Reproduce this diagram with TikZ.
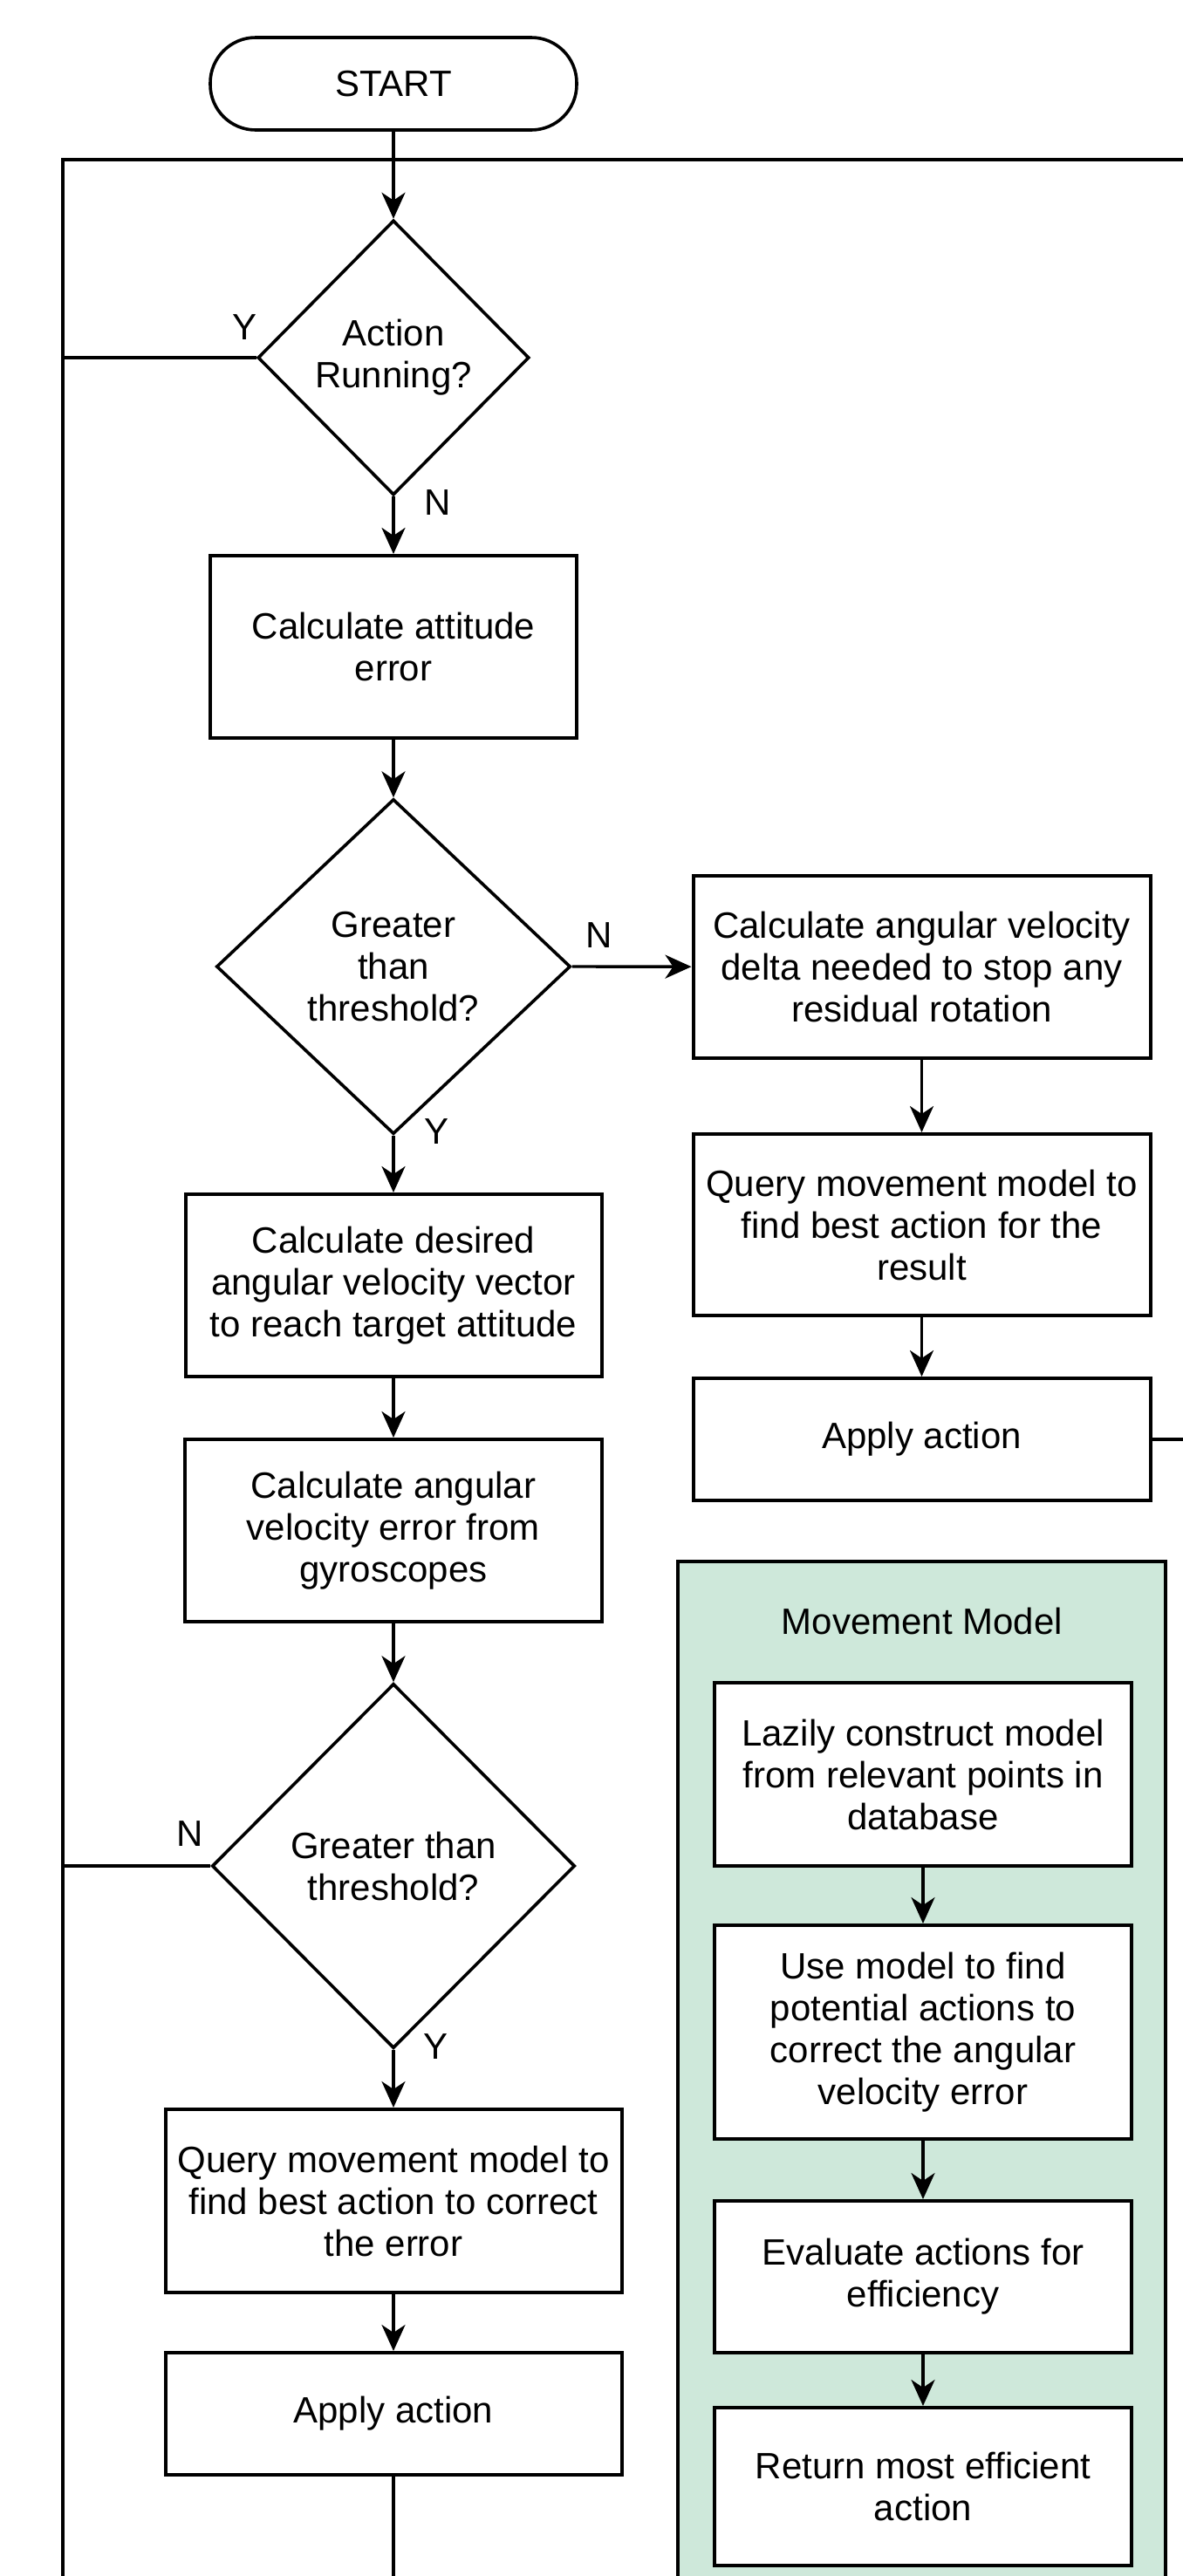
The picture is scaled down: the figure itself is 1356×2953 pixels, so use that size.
\documentclass[tikz,border=0pt]{standalone}
\usepackage{fontspec}
\setmainfont{Liberation Sans}
\usetikzlibrary{shapes.geometric,arrows.meta}
\definecolor{mmgreen}{RGB}{206,232,218}
\tikzset{
  every node/.style={font=\fontsize{42}{48}\selectfont, text=black},
  boxnode/.style={draw=black, line width=4pt, fill=white, rectangle, inner sep=0pt, align=center},
  decnode/.style={draw=black, line width=3.6pt, fill=white, diamond, inner sep=0pt},
  txtnode/.style={align=center, inner sep=0pt},
  lbl/.style={inner sep=0pt},
  conn/.style={line width=3.4pt, draw=black},
  arr/.style={conn, -{Stealth[length=30pt, width=27pt, inset=9pt]}},
}
\begin{document}
\begin{tikzpicture}[x=1pt, y=-1pt]
\useasboundingbox (0,0) rectangle (1356,2953);
\clip (0,0) rectangle (1356,2953);
% movement model container
\node[draw=black, line width=4pt, fill=mmgreen, rectangle, inner sep=0pt,
      minimum width=559pt, minimum height=1260pt] (mm) at (1056.5,2420) {};
\node[txtnode] (mmt) at (1057,1858) {Movement Model};
% loop coordinates
\coordinate (tl) at (72,183);
\coordinate (tr) at (1360,183);
\coordinate (bl) at (72,2960);
\coordinate (bapp) at (451,2960);
\coordinate (rr) at (1360,1650);
\coordinate (j1) at (72,410);
\coordinate (j3) at (72,2139);
\draw[conn] (tr) -- (tl) -- (bl);
% start
\node[draw=black, line width=3.6pt, fill=white, rectangle, rounded corners=52pt,
      minimum width=420pt, minimum height=106pt, inner sep=0pt] (start) at (451,96) {START};
% left column
\node[decnode, minimum width=311pt, minimum height=315pt] (d1) at (451,410) {};
\node[txtnode] (d1t) at (451,410) {Action\\Running?};
\node[boxnode, minimum width=420pt, minimum height=209pt] (b1) at (451,741.5) {Calculate attitude\\error};
\node[decnode, minimum width=406pt, minimum height=384pt] (d2) at (451,1108) {};
\node[txtnode] (d2t) at (451,1108) {Greater\\than\\threshold?};
\node[boxnode, minimum width=477pt, minimum height=209pt] (b2) at (451,1473.5) {Calculate desired\\angular velocity vector\\to reach target attitude};
\node[boxnode, minimum width=478pt, minimum height=209pt] (b3) at (451,1754.5) {Calculate angular\\velocity error from\\gyroscopes};
\node[decnode, minimum width=416pt, minimum height=418pt] (d3) at (451,2139) {};
\node[txtnode] (d3t) at (451,2139) {Greater than\\threshold?};
\node[boxnode, minimum width=523pt, minimum height=210pt] (b4) at (451,2523) {Query movement model to\\find best action to correct\\the error};
\node[boxnode, minimum width=523pt, minimum height=140pt] (b5) at (451,2767) {Apply action};
% right column
\node[boxnode, minimum width=524pt, minimum height=209pt] (r1) at (1056.5,1108.5) {Calculate angular velocity\\delta needed to stop any\\residual rotation};
\node[boxnode, minimum width=524pt, minimum height=208pt] (r2) at (1056.5,1404) {Query movement model to\\find best action for the\\result};
\node[boxnode, minimum width=524pt, minimum height=140pt] (r3) at (1056.5,1650) {Apply action};
% movement model boxes
\node[boxnode, minimum width=478pt, minimum height=210pt] (m1) at (1058,2034) {Lazily construct model\\from relevant points in\\database};
\node[boxnode, minimum width=478pt, minimum height=245pt] (m2) at (1058,2329.5) {Use model to find\\potential actions to\\correct the angular\\velocity error};
\node[boxnode, minimum width=478pt, minimum height=174pt] (m3) at (1058,2610) {Evaluate actions for\\efficiency};
\node[boxnode, minimum width=478pt, minimum height=181pt] (m4) at (1058,2850.5) {Return most efficient\\action};
% connectors
\draw[arr] (start) -- (d1.north);
\draw[conn] (d1.west) -- (j1);
\draw[arr] (d1.south) -- (b1);
\draw[arr] (b1) -- (d2.north);
\draw[arr] (d2.east) -- (r1);
\draw[arr] (d2.south) -- (b2);
\draw[arr] (b2) -- (b3);
\draw[arr] (b3) -- (d3.north);
\draw[conn] (d3.west) -- (j3);
\draw[arr] (d3.south) -- (b4);
\draw[arr] (b4) -- (b5);
\draw[conn] (b5) -- (bapp);
\draw[arr] (r1) -- (r2);
\draw[arr] (r2) -- (r3);
\draw[conn] (r3) -- (rr);
\draw[arr] (m1) -- (m2);
\draw[arr] (m2) -- (m3);
\draw[arr] (m3) -- (m4);
% labels
\node[lbl] (ly1) at (281,375) {Y};
\node[lbl] (ln1) at (502,576) {N};
\node[lbl] (ln2) at (687,1072) {N};
\node[lbl] (ly2) at (501,1297) {Y};
\node[lbl] (ln3) at (218,2102) {N};
\node[lbl] (ly3) at (500,2346) {Y};
\end{tikzpicture}
\end{document}
